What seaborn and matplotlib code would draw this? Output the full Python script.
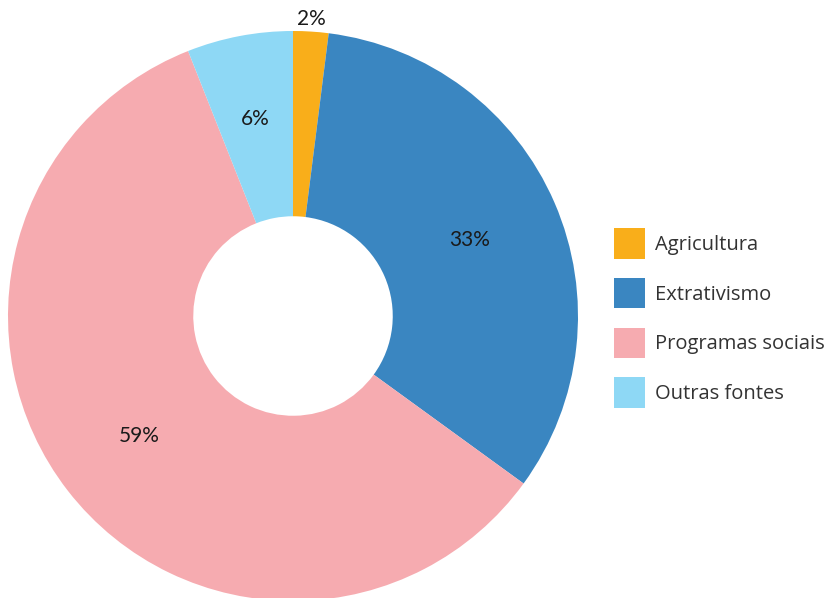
import numpy as np
import matplotlib
matplotlib.use("Agg")
import matplotlib.pyplot as plt
import seaborn as sns
from matplotlib.patches import Patch

categories = ["Agricultura", "Extrativismo", "Programas sociais", "Outras fontes"]
values = [2, 33, 59, 6]
labels = ["2%", "33%", "59%", "6%"]
colors = ["#F9AE1A", "#3A86C1", "#F6ABB0", "#8ED8F5"]

sns.set_theme(style="white")
plt.rcParams['font.family'] = ['Open Sans', 'DejaVu Sans']

fig = plt.figure(figsize=(8.26, 5.98), dpi=100)
R = 285
cx, cy = 293, 598 - 316
ax = fig.add_axes([(cx - R) / 826, (cy - R) / 598, 2 * R / 826, 2 * R / 598])

wedges, _ = ax.pie(values, colors=sns.color_palette(colors), startangle=90, counterclock=False,
                   radius=1.0, wedgeprops=dict(width=0.65, linewidth=0, edgecolor="white"))
ax.set_xlim(-1, 1)
ax.set_ylim(-1, 1)
ax.set_aspect("equal")
ax.axis("off")

dists = [1.045, 0.675, 0.685, 0.705]
for w, lab, d in zip(wedges, labels, dists):
    ang = np.deg2rad((w.theta1 + w.theta2) / 2)
    ax.text(d * np.cos(ang), d * np.sin(ang), lab, ha="center", va="center",
            fontsize=15, color="#1a1a1a", family=["Lato", "DejaVu Sans"])

handles = [Patch(facecolor=c, edgecolor="none") for c in colors]
fig.legend(handles, categories, loc="center left", bbox_to_anchor=(596 / 826, 1 - 318 / 598),
           frameon=False, fontsize=14.5, handlelength=1.55, handleheight=1.95,
           handletextpad=0.5, labelspacing=0.95, labelcolor="#333333")

fig.savefig("out.png", dpi=100)
